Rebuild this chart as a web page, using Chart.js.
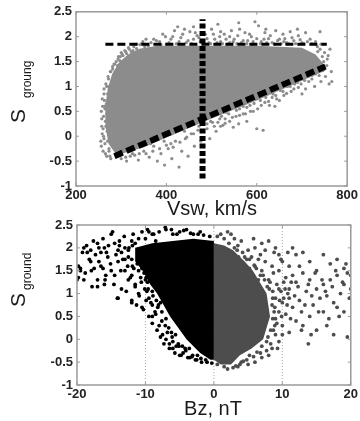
<!DOCTYPE html>
<html>
<head>
<meta charset="utf-8">
<script src="https://cdn.jsdelivr.net/npm/chart.js@4/dist/chart.umd.min.js"></script>
<style>
  html, body { margin: 0; padding: 0; background: #fff; }
  #wrap { position: relative; width: 360px; height: 421px; overflow: hidden; }
  canvas { position: absolute; left: 0; }
  #top { top: 0; }
  #bot { top: 212px; }
</style>
</head>
<body>
<div id="wrap">
  <canvas id="top" width="360" height="218"></canvas>
  <canvas id="bot" width="360" height="209"></canvas>
</div>
<script>
// ---- top panel: S_groung vs Vsw ----
const vswTicks = [200, 400, 600, 800];
const sTicks = [-1, -0.5, 0, 0.5, 1, 1.5, 2, 2.5];

// dense core of the cloud (outline)
const vswCore = [[290,-0.38],[272,-0.15],[265,0.2],[265,0.6],[270,0.95],[280,1.25],[295,1.48],[315,1.64],[340,1.76],[380,1.82],[600,1.82],[700,1.78],[730,1.64],[748,1.45],[752,1.32],[600,0.72],[480,0.28],[350,-0.22],[290,-0.38]];

// scattered points around the core
const vswPoints = [
  [256,-0.2],[258,0.05],[257,0.35],[259,0.6],[262,0.85],[265,-0.35],[266,0.2],[268,0.45],[268,1.0],[270,-0.1],
  [271,0.7],[272,1.15],[274,0.3],[275,-0.4],[276,0.95],[277,1.3],[278,0.05],[279,0.5],[281,1.4],[283,-0.2],
  [284,0.8],[286,1.45],[288,0.4],[289,1.2],[291,-0.05],[293,1.55],[296,0.9],[298,1.6],[302,1.65],[306,1.3],
  [310,1.7],[318,1.75],[326,1.72],[262,-0.05],[264,0.55],[273,-0.25],[280,0.25],[285,0.6],[260,0.15],[263,0.72],
  [255,-0.1],[257,0.2],[256,0.5],[258,0.75],[260,-0.3],[261,0.0],[261,0.4],[262,0.95],[263,0.6],[264,-0.15],
  [265,0.3],[266,1.05],[267,0.65],[268,-0.4],[269,0.1],[270,0.85],[271,1.2],[272,0.45],[273,-0.3],[274,1.0],
  [275,0.2],[276,1.3],[277,-0.45],[278,0.7],[279,1.1],[280,-0.1],[281,1.35],[282,0.35],[284,1.45],[285,-0.25],
  [287,1.3],[289,1.5],[292,1.42],[294,1.6],[297,1.52],[300,1.68],[304,1.62],[308,1.72],[312,1.66],[316,1.78],
  [322,1.7],[328,1.8],[334,1.76],[342,1.84],[352,1.8],
  [335,1.85],[348,1.9],[360,1.82],[372,1.95],[385,1.9],[392,2.05],[400,1.85],[410,1.95],[418,2.12],[428,1.9],
  [436,2.05],[444,1.88],[452,2.1],[460,1.95],[468,2.02],[475,1.9],[486,2.05],[494,1.88],[500,2.15],[507,1.95],
  [514,2.25],[520,1.9],[528,2.05],[536,1.85],[544,2.12],[550,1.95],[558,2.02],[566,1.88],[574,2.08],[580,1.92],
  [588,2.0],[596,2.3],[604,2.22],[610,1.9],[618,2.08],[626,1.96],[634,1.88],[642,2.12],[650,1.95],[658,2.05],
  [666,1.88],[674,2.1],[682,1.92],[692,2.02],[700,1.88],[708,2.08],[718,1.95],[730,1.9],[740,2.1],[425,2.2],
  [540,2.0],[590,1.85],[660,1.9],
  [345,1.86],[355,1.95],[366,1.88],[378,1.92],[388,1.84],[398,2.0],[406,1.88],[414,2.0],[422,1.86],[432,1.98],
  [440,2.15],[448,1.92],[456,1.86],[464,2.08],[472,1.98],[482,1.88],[490,1.96],[498,1.86],[504,2.05],[512,1.88],
  [518,2.0],[524,1.86],[532,1.95],[540,1.88],[548,1.9],[556,1.86],[562,2.15],[570,1.92],[578,1.86],[584,2.05],
  [592,1.9],[600,1.96],[608,1.86],[616,1.95],[622,1.88],[630,2.02],[638,1.86],[646,1.92],[654,1.86],[662,1.96],
  [670,1.86],[678,1.98],[686,1.86],[696,1.94],[704,1.86],[712,1.9],[722,1.86],[734,1.8],[742,1.85],[560,2.28],
  [620,2.15],[690,2.15],[520,2.1],[460,2.2],
  [740,1.75],[750,1.68],[756,1.55],[762,1.75],[758,1.62],[745,1.6],[735,1.7],[766,1.1],[760,1.05],[752,1.2],
  [742,1.1],[738,1.3],[728,1.0],[722,1.22],[715,1.1],[708,0.95],[702,1.15],[748,1.5],[755,1.42],[765,1.3],
  [300,-0.45],[312,-0.5],[325,-0.35],[338,-0.48],[350,-0.3],[362,-0.42],[372,-0.2],[380,-0.5],[388,-0.35],[396,-0.58],
  [404,-0.25],[412,-0.45],[420,-0.1],[428,-0.62],[434,-0.3],[442,-0.05],[448,-0.4],[455,0.05],[462,-0.2],[470,0.12],
  [476,-0.1],[490,0.15],[496,-0.05],[502,0.28],[510,0.1],[518,0.35],[525,0.22],[532,0.48],[540,0.3],[548,0.18],
  [555,0.52],[562,0.42],[570,0.6],[578,0.3],[585,0.62],[592,0.5],[600,0.15],[608,0.72],[614,0.12],[620,0.78],
  [628,0.62],[636,0.85],[644,0.75],[652,0.92],[660,0.82],[668,1.0],[676,0.9],[684,1.05],[692,0.98],[560,0.25],
  [520,0.2],[505,0.45],[410,-0.15],[395,-0.1],[365,-0.15],[440,0.1],[530,0.35],[575,0.45],[640,0.6],[700,0.85],
  [490,0.25],[498,0.3],[506,0.2],[514,0.28],[522,0.4],[530,0.26],[538,0.45],[546,0.38],[554,0.4],[562,0.55],
  [570,0.45],[578,0.58],[586,0.5],[594,0.66],[602,0.55],[610,0.62],[618,0.68],[626,0.7],[634,0.78],[642,0.82],
  [650,0.72],[658,0.9],[666,0.86],[674,1.0],[682,0.95],[690,1.08],[698,1.05],[706,1.12],[714,1.2],[722,1.15],
  [730,1.25],[738,1.22],[746,1.32],[310,-0.42],[320,-0.4],[330,-0.38],[340,-0.35],[355,-0.35],[370,-0.3],
  [385,-0.25],[400,-0.18],[415,-0.22],[430,-0.12],[445,-0.02],[460,0.05],[472,0.2]
];

// dashed guide lines
const levelLine = [[265,1.85],[755,1.85]];
const vswCut = [[480,-0.85],[480,2.35]];
const lowerEdge = [[285,-0.4],[752,1.4]];

// ---- bottom panel: S_ground vs Bz ----
const bzTicks = [-20, -10, 0, 10, 20];
const bzGrid = [-10, 0, 10];

const southCore = [[0,2.15],[-3,2.2],[-6,2.15],[-9,2.1],[-11.5,2.0],[-11.5,1.7],[-10.4,1.5],[-9.3,1.2],[-8.3,1.0],[-6.4,0.5],[-4,0.0],[-2,-0.3],[-0.5,-0.45],[0,-0.45],[0,2.15]];
const northCore = [[0,2.1],[1.5,2.05],[2.8,1.95],[4.5,1.7],[5.7,1.5],[7.7,1.0],[8.2,0.5],[7.2,0.0],[5.5,-0.2],[3.8,-0.35],[2.5,-0.55],[1,-0.55],[0,-0.45],[0,2.1]];

const southPoints = [
  [-19.5,1.5],[-19,1.3],[-19.8,1.6],[-18.5,1.9],[-18,1.95],[-17.5,1.55],[-17,2.1],[-16.5,1.9],[-16,2.0],[-15.5,1.8],
  [-15,2.3],[-14.5,2.1],[-14,1.7],[-14,0.9],[-13.5,1.9],[-13,2.0],[-13,1.5],[-12.5,1.3],[-12,0.8],[-12,1.75],
  [-11.5,2.1],[-11,1.5],[-11,1.0],[-10.5,0.7],[-10.5,1.9],[-10,2.2],[-10,1.3],[-9.5,2.35],[-9.5,0.9],[-9,2.3],
  [-9,0.5],[-8.5,2.15],[-8,2.35],[-8,0.3],[-7.5,0.1],[-7,2.4],[-7,0.0],[-6.5,-0.1],[-6,2.3],[-6,-0.2],
  [-5,2.35],[-5,-0.35],[-4,2.4],[-3.5,-0.4],[-3,2.3],[-2,2.35],[-16,1.2],[-17,1.3],[-15,1.5],[-18,1.7],
  [-14.5,1.4],[-13.5,1.1],[-12.5,1.95],[-11.5,1.2],[-19,2.0],[-17.8,1.15],[-16.8,1.7],[-15.8,1.4],[-14,1.95],[-13,1.75],
  [-12,2.15],[-12,1.4],[-11,1.8],[-10.5,1.55],[-9.8,1.05],[-9,0.75],[-8.5,0.55],[-20,1.3],[-10,1.7],[-9.5,1.5],
  [-8.8,1.2],[-7.8,0.8],[-7,0.45],[-6.2,0.15],[-5.5,-0.15],[-4.5,-0.3],[-2.5,-0.45],[-11,2.2],[-13.8,2.05],[-16.2,1.55],
  [-19.8,1.35],[-19.5,1.55],[-19.2,1.9],[-18.8,1.45],[-18.6,2.05],[-18.2,1.75],[-17.9,1.5],[-17.6,2.15],[-17.3,1.85],[-17,1.15],
  [-16.8,2.0],[-16.5,1.6],[-16.2,2.2],[-15.9,1.3],[-15.7,1.9],[-15.4,2.05],[-15.1,1.65],[-14.8,2.35],[-14.6,1.2],[-14.3,1.85],
  [-14.1,0.9],[-13.8,2.15],[-13.6,1.5],[-13.3,1.75],[-13.1,2.25],[-12.8,1.05],[-12.6,1.6],[-12.4,2.0],[-12.2,1.35],[-12,0.85],
  [-11.8,2.3],[-11.7,1.55],[-11.5,1.15],[-11.3,0.75],[-11.1,1.85],[-10.9,0.95],[-10.7,1.35],[-10.5,2.35],[-10.3,0.65],[-10.1,1.1],
  [-9.9,0.85],[-9.7,2.4],[-9.5,0.5],[-9.2,0.8],[-9,0.35],[-8.8,2.3],[-8.6,0.6],[-8.3,0.2],[-8.1,0.75],[-7.8,0.05],
  [-7.6,0.4],[-7.3,-0.1],[-7.1,2.45],[-6.8,0.15],[-6.5,-0.2],[-6.2,2.4],[-6,-0.05],[-5.7,-0.3],[-5.4,2.3],[-5.1,-0.15],
  [-4.8,-0.35],[-4.4,2.38],[-4.2,-0.2],[-3.8,-0.4],[-3.4,2.32],[-3.1,-0.35],[-2.7,-0.45],[-2.3,2.3],[-1.8,-0.5],[-1.5,2.28],
  [-1,-0.5],[-0.6,2.25],[-0.3,-0.52],[-12.5,1.8],[-11.9,1.6],[-10.8,1.7],[-10.2,1.45],[-9.7,1.25],[-9,1.05],[-8.4,0.85],
  [-11.9,2.05],[-11.2,1.65],[-10.6,1.25],[-9.9,1.35],[-9.6,1.1],[-8.9,0.95],[-8.2,0.7],[-7.6,0.6],[-7.1,0.3],[-6.6,0.25],
  [-6.1,0.05],[-5.6,0.1],[-5.2,-0.1],[-4.6,-0.15],[-4.1,-0.25],[-3.6,-0.2],[-3.2,-0.38],[-2.4,-0.35],[-1.9,-0.42],[-1.2,-0.45]
];

const northPoints = [
  [1,2.3],[2,2.35],[3,2.2],[4,2.15],[6,2.0],[7.5,1.95],[8,2.15],[9,2.0],[9.5,1.85],[10,1.7],
  [11,1.6],[12,1.85],[13,1.9],[14,1.7],[15,1.5],[16,1.85],[17,1.65],[18,1.75],[19,1.55],[19.5,1.45],
  [20,1.1],[19,1.2],[18,1.4],[17,1.3],[16,1.2],[15,1.1],[14,1.3],[13,1.45],[12,1.25],[11,1.1],
  [10.5,1.35],[9.5,1.5],[8.5,1.6],[7.5,1.7],[6.5,1.75],[5.5,1.8],[5,1.95],[13.5,1.05],[15.5,0.9],[17.5,0.8],
  [18.5,1.0],[16.5,0.95],[14.5,0.75],[12.5,0.85],[11.5,0.7],[10.5,0.55],[12,0.4],[13,0.3],[14,0.5],[15,0.2],
  [16,0.6],[18,0.7],[19.5,0.05],[11,0.15],[10,0.3],[9.5,-0.05],[9,0.1],[8.5,-0.2],[8,-0.35],[7,-0.4],
  [6,-0.5],[5,-0.55],[3.5,-0.6],[2,-0.65],[4,-0.5],[20,1.4],[19.8,0.9],[9,0.9],[9.5,1.1],[10,0.8],
  [8.8,0.6],[9.2,0.35],[8,1.3],[7,1.5],[6,1.6],[4.5,1.8],[3,2.0],[11.5,1.4],[12.5,1.6],[10.8,1.0],
  [0.5,2.25],[1.5,2.2],[2.5,2.3],[3.5,2.05],[4.2,1.9],[5.2,1.75],[6.2,1.55],[6.8,1.85],[7.2,1.4],[8.2,1.25],
  [8.7,1.45],[9.2,1.2],[9.8,1.05],[10.2,0.9],[10.7,0.75],[11.2,0.45],[11.8,0.95],[12.3,1.15],[12.8,0.6],[13.3,0.75],
  [13.8,1.2],[14.3,0.95],[14.8,1.45],[15.3,0.6],[15.8,1.3],[16.3,1.05],[16.8,0.45],[17.3,1.15],[17.8,1.5],[18.3,0.5],
  [18.8,1.25],[19.3,1.65],[10.8,1.9],[11.5,2.0],[9.8,1.75],[8.8,1.9],[7,2.1],[5.8,2.2],[9.5,0.6],[9,0.45],
  [8.7,0.2],[10,0.1],[9.3,-0.2],[8.3,-0.1],[7.7,-0.25],[6.8,-0.3],[5.8,-0.38],[4.8,-0.45],[3.8,-0.55],[2.8,-0.62],
  [1.5,-0.6],[0.5,-0.55],[12.8,0.2],[14.2,0.1],[13.8,-0.1],[16.5,0.3],[17.5,0.1],[19,0.6],[20,0.9],[8.6,1.05],
  [8.5,0.75],[8.9,0.3],[7.9,0.05],[6.5,1.3],[5.2,1.55],[3.6,1.8],[2.2,2.1],[7.8,1.15],[10.2,1.25],[11,0.9],
  [3.4,1.95],[4.8,1.75],[5.9,1.62],[6.8,1.4],[7.4,1.3],[8.1,1.1],[8.6,0.9],[8.9,0.7],[8.6,0.45],[8.3,0.2],
  [7.7,-0.05],[7,-0.15],[6.3,-0.28],[5.2,-0.35],[4.3,-0.48],[3.2,-0.58],[9.6,0.85],[10.4,1.1],[9.9,0.5],[11.3,1.25]
];

function pts(list) {
  return list.map(([x, y]) => ({ x, y }));
}

const tickFont = { family: 'Liberation Sans', size: 13, weight: 'bold' };

// box, inner tick marks and axis titles in MATLAB style
const frame = {
  id: 'frame',
  afterDraw(chart, args, o) {
    const { ctx, chartArea: a, scales } = chart;
    ctx.save();
    ctx.strokeStyle = '#9a9a9a';
    ctx.lineWidth = 1.5;
    ctx.strokeRect(a.left, a.top, a.right - a.left, a.bottom - a.top);
    ctx.lineWidth = 1;
    ctx.beginPath();
    scales.x.ticks.forEach(t => {
      const px = scales.x.getPixelForValue(t.value);
      ctx.moveTo(px, a.bottom); ctx.lineTo(px, a.bottom - 3);
      ctx.moveTo(px, a.top); ctx.lineTo(px, a.top + 3);
    });
    scales.y.ticks.forEach(t => {
      const py = scales.y.getPixelForValue(t.value);
      ctx.moveTo(a.left, py); ctx.lineTo(a.left + 3, py);
      ctx.moveTo(a.right, py); ctx.lineTo(a.right - 3, py);
    });
    ctx.stroke();

    ctx.fillStyle = '#1a1a1a';
    ctx.font = '20px "Liberation Sans"';
    ctx.textAlign = 'center';
    ctx.textBaseline = 'alphabetic';
    ctx.fillText(o.xTitle, o.xTitleX, o.xTitleY);

    ctx.translate(o.yTitleX, o.yTitleY);
    ctx.rotate(-Math.PI / 2);
    ctx.textAlign = 'left';
    ctx.font = '21px "Liberation Sans"';
    ctx.fillText('S', 0, 0);
    ctx.font = '12px "Liberation Sans"';
    ctx.fillText(o.ySub, o.subShift, 6);
    ctx.restore();
  }
};

function baseOptions(xr, yr, padding, yWidth, xHeight, titles) {
  return {
    responsive: false,
    animation: false,
    layout: { padding },
    plugins: { legend: { display: false }, tooltip: { enabled: false }, frame: titles },
    scales: {
      x: {
        type: 'linear', min: xr[0], max: xr[1],
        afterBuildTicks: s => { s.ticks = xr[2].map(v => ({ value: v })); },
        afterFit: s => { s.height = xHeight; },
        grid: { display: false, drawTicks: false, tickLength: 0 }, border: { display: false },
        ticks: { font: tickFont, color: '#222', padding: 2, maxRotation: 0, callback: v => String(v) }
      },
      y: {
        type: 'linear', min: yr[0], max: yr[1],
        afterBuildTicks: s => { s.ticks = yr[2].map(v => ({ value: v })); },
        afterFit: s => { s.width = yWidth; },
        grid: { display: false, drawTicks: false, tickLength: 0 }, border: { display: false },
        ticks: { font: tickFont, color: '#222', padding: 4, callback: v => String(v) }
      }
    }
  };
}

const lineSet = (list, width, dash, color, order) => ({
  data: pts(list), showLine: true, borderColor: color, borderWidth: width,
  borderDash: dash, pointRadius: 0, fill: false, order, borderCapStyle: 'butt'
});
const areaSet = (list, color, order) => ({
  data: pts(list), showLine: true, borderWidth: 0, borderColor: color,
  backgroundColor: color, pointRadius: 0, fill: 'shape', order
});
const dotSet = (list, color, r, order) => ({
  data: pts(list), backgroundColor: color, borderWidth: 0, pointRadius: r, order
});

new Chart(document.getElementById('top'), {
  type: 'scatter',
  data: {
    datasets: [
      areaSet(vswCore, '#8c8c8c', 4),
      dotSet(vswPoints, '#8c8c8c', 1.6, 3),
      lineSet(levelLine, 3, [8, 4], '#000', 1),
      lineSet(lowerEdge, 6, [9, 4], '#000', 1),
      lineSet(vswCut, 6, [5, 2.5], '#000', 1)
    ]
  },
  options: baseOptions([200, 800, vswTicks], [-1, 2.5, sTicks], { left: 0, right: 12, top: 7, bottom: 0 }, 76, 32,
    { xTitle: 'Vsw, km/s', xTitleX: 212, xTitleY: 215, yTitleX: 25, yTitleY: 123, ySub: 'groung', subShift: 25 }),
  plugins: [frame]
});

new Chart(document.getElementById('bot'), {
  type: 'scatter',
  data: {
    datasets: [
      ...bzGrid.map(v => lineSet([[v, -1], [v, 2.5]], 1, [1, 2], '#a8a8a8', 6)),
      areaSet(northCore, '#4d4d4d', 5),
      dotSet(northPoints, '#4d4d4d', 1.9, 4),
      areaSet(southCore, '#000', 3),
      dotSet(southPoints, '#000', 1.9, 2)
    ]
  },
  options: baseOptions([-20, 20, bzTicks], [-1, 2.5, sTicks], { left: 0, right: 9, top: 13, bottom: 0 }, 77, 36,
    { xTitle: 'Bz, nT', xTitleX: 213, xTitleY: 203, yTitleX: 25, yTitleY: 95, ySub: 'ground', subShift: 17 }),
  plugins: [frame]
});
</script>
</body>
</html>
